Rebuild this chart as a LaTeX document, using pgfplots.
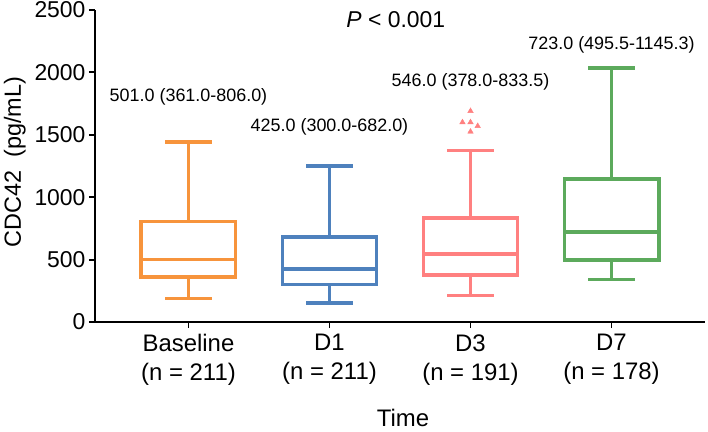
\documentclass[border=0pt]{standalone}
\usepackage{pgfplots}
\pgfplotsset{compat=1.18}
\usepgfplotslibrary{statistics}
\usepackage{fontspec}
\setmainfont{Liberation Sans}
\definecolor{corange}{HTML}{F7943C}
\definecolor{cblue}{HTML}{4E81BD}
\definecolor{cpink}{HTML}{FF8080}
\definecolor{cgreen}{HTML}{5CAA5C}
\begin{document}
\begin{tikzpicture}
\useasboundingbox (-95bp,-110bp) rectangle (613bp,322bp);
\begin{axis}[
  scale only axis,
  width=610bp, height=312bp,
  xmin=-0.663, xmax=3.663,
  ymin=0, ymax=2500,
  axis lines*=left,
  axis line style={line width=1.8bp, black},
  tick align=outside,
  major tick length=6bp,
  tick style={line width=1.8bp, black},
  xtick={0,1,2,3},
  xticklabels={{Baseline\\(n = 211)},{D1\\(n = 211)},{D3\\(n = 191)},{D7\\(n = 178)}},
  xticklabel style={align=center, font=\fontsize{24}{29}\selectfont, yshift=-3bp},
  ytick={0,500,1000,1500,2000,2500},
  yticklabel style={font=\fontsize{23}{26}\selectfont},
  /pgf/number format/assume math mode=true,
  /pgf/number format/1000 sep={},
  ylabel={CDC42\ \ (pg/mL)},
  ylabel style={font=\fontsize{23.5}{27}\selectfont, xshift=4bp, yshift=2bp},
  xlabel={Time},
  xlabel style={font=\fontsize{24}{27}\selectfont, at={(axis description cs:0.505,0)}, anchor=base, yshift=-104bp},
  boxplot/draw direction=y,
  clip=false,
]
\addplot[draw=corange, line width=3.5bp, boxplot prepared={lower whisker=187, lower quartile=361, median=501, upper quartile=806, upper whisker=1441, draw position=0, box extend=0.67, whisker extend=0.33}] coordinates {};
\addplot[draw=cblue, line width=3.5bp, boxplot prepared={lower whisker=152, lower quartile=300, median=425, upper quartile=682, upper whisker=1249, draw position=1, box extend=0.67, whisker extend=0.33}] coordinates {};
\addplot[draw=cpink, line width=3.5bp, boxplot prepared={lower whisker=214, lower quartile=378, median=546, upper quartile=833.5, upper whisker=1375, draw position=2, box extend=0.67, whisker extend=0.33}] coordinates {};
\addplot[draw=cgreen, line width=3.5bp, boxplot prepared={lower whisker=339, lower quartile=495.5, median=723, upper quartile=1145.3, upper whisker=2034, draw position=3, box extend=0.67, whisker extend=0.33}] coordinates {};
\addplot[only marks, mark=triangle*, mark size=3.2bp, color=cpink] coordinates {(2,1690) (1.943,1600) (2,1600) (2.051,1570) (2,1525)};
\node[font=\fontsize{18}{21}\selectfont] at (axis cs:0,1803) {501.0 (361.0-806.0)};
\node[font=\fontsize{18}{21}\selectfont] at (axis cs:1,1563) {425.0 (300.0-682.0)};
\node[font=\fontsize{18}{21}\selectfont] at (axis cs:2,1923) {546.0 (378.0-833.5)};
\node[font=\fontsize{18}{21}\selectfont] at (axis cs:3,2220) {723.0 (495.5-1145.3)};
\node[font=\fontsize{23}{27}\selectfont] at (axis cs:1.47,2420) {\textit{P} < 0.001};
\end{axis}
\end{tikzpicture}
\end{document}
